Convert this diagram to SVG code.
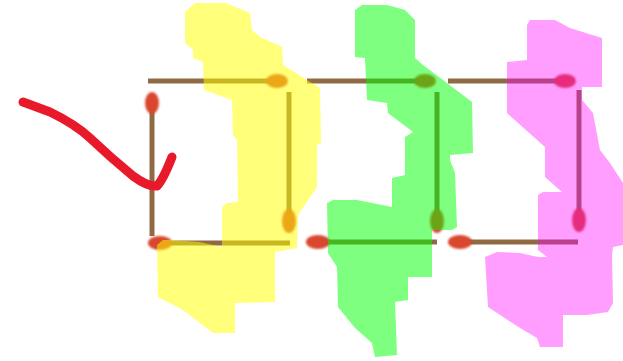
<svg xmlns="http://www.w3.org/2000/svg" width="623" height="361" viewBox="0 0 623 361">
<defs>
<filter id="soft" x="-30%" y="-30%" width="160%" height="160%"><feGaussianBlur stdDeviation="0.9"/></filter>
<style>
.stick{stroke:#8f6a45;stroke-width:5;fill:none}
.head{fill:#d8462f;filter:url(#soft)}
.hl{stroke:none}
.y{fill:#ffff00;opacity:0.52}
.g{fill:#00ff00;opacity:0.5}
.p{fill:#ff00ff;opacity:0.38}
</style>
</defs>
<rect width="623" height="361" fill="#ffffff"/>
<g id="square1">
<line class="stick" x1="148" y1="81" x2="270" y2="81"/>
<ellipse class="head" cx="277" cy="81" rx="11" ry="7"/>
<line class="stick" x1="152" y1="110" x2="152" y2="236"/>
<ellipse class="head" cx="152" cy="103" rx="7" ry="11"/>
<line class="stick" x1="165" y1="243" x2="290" y2="243"/>
<ellipse class="head" cx="160" cy="243" rx="12" ry="7"/>
<line class="stick" x1="289" y1="92" x2="289" y2="215"/>
<ellipse class="head" cx="289" cy="221" rx="7" ry="12"/>
</g>
<g id="square2">
<line class="stick" x1="307" y1="81" x2="420" y2="81"/>
<ellipse class="head" cx="425" cy="81" rx="11" ry="7"/>
<line class="stick" x1="437" y1="92" x2="437" y2="214"/>
<ellipse class="head" cx="437" cy="221" rx="7" ry="12"/>
<line class="stick" x1="322" y1="242" x2="437" y2="242"/>
<ellipse class="head" cx="318" cy="242" rx="12" ry="7"/>
</g>
<g id="square3">
<line class="stick" x1="448" y1="81" x2="560" y2="81"/>
<ellipse class="head" cx="565" cy="81" rx="11" ry="7"/>
<line class="stick" x1="579" y1="90" x2="579" y2="214"/>
<ellipse class="head" cx="579" cy="220" rx="7" ry="12"/>
<line class="stick" x1="465" y1="242" x2="578" y2="242"/>
<ellipse class="head" cx="460" cy="242" rx="12" ry="7"/>
</g>
<g id="highlights">
<path class="hl y" d="M185 12 L195 3 L225 3 L238 8 L250 13 L252 30 L260 37 L282 47 L283 65 L307 80 L320 88 L321 143 L317 145 L317 187 L298 215 L297 248 L275 252 L275 302 L235 303 L235 333 L213 333 L183 310 L158 297 L157 245 L163 240 L170 240 L200 242 L213 245 L222 247 L222 207 L227 203 L238 202 L237 140 L233 135 L232 100 L204 90 L203 62 L193 58 L193 50 L185 43 Z"/>
<path class="hl g" d="M355 10 L362 5 L387 5 L405 10 L415 20 L415 58 L423 65 L443 80 L472 102 L473 153 L450 155 L450 160 L455 173 L457 227 L452 230 L432 230 L432 277 L408 277 L408 300 L395 302 L397 355 L375 357 L372 343 L355 328 L338 307 L337 267 L328 253 L327 203 L333 200 L357 200 L392 207 L392 178 L405 175 L405 137 L413 132 L388 113 L387 103 L367 100 L365 58 L355 57 Z"/>
<path class="hl p" d="M527 25 L530 20 L555 20 L570 28 L602 38 L602 87 L582 87 L582 100 L593 113 L600 150 L610 163 L623 183 L623 245 L613 247 L612 255 L613 303 L608 312 L587 315 L563 315 L563 347 L540 347 L537 338 L520 328 L488 307 L485 257 L497 252 L520 253 L538 257 L547 257 L538 250 L538 195 L543 192 L562 192 L545 177 L545 147 L507 113 L507 62 L527 60 Z"/>
</g>
<g id="checkmark">
<path d="M23 102 L50 112 Q75 124 90 138 Q110 157 133 176 Q148 187 157 186 Q163 180 172 157" fill="none" stroke="#e8192b" stroke-width="9" stroke-linecap="round" stroke-linejoin="round"/>
</g>
</svg>
